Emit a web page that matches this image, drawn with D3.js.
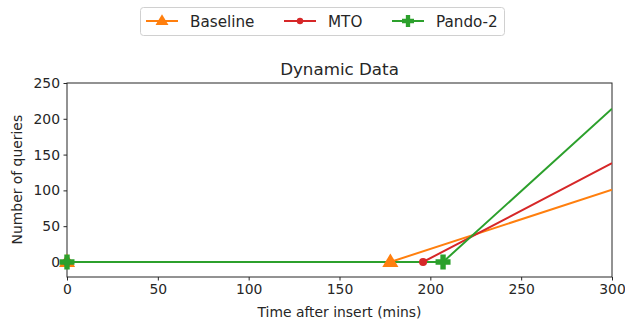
<!DOCTYPE html>
<html>
<head>
<meta charset="utf-8">
<script src="https://cdn.jsdelivr.net/npm/d3@7"></script>
<style>
  body { margin: 0; background: #fff; }
  text { font-family: "DejaVu Sans", sans-serif; }
</style>
</head>
<body>
<div id="chart"></div>
<script>
// Data
const seriesNames = ['Baseline', 'MTO', 'Pando-2']
const seriesColors = ['#ff7f0e', '#d62728', '#2ca02c']
const baselineX = [0, 178, 300]
const baselineY = [0, 0, 101]
const mtoX = [0, 196, 300]
const mtoY = [0, 0, 138]
const pandoX = [0, 207, 300]
const pandoY = [0, 0, 214]
const markedPoints = 2 // markers only on the first two points of each series
const xTicks = [0, 50, 100, 150, 200, 250, 300]
const yTicks = [0, 50, 100, 150, 200, 250]

const series = [
  { name: seriesNames[0], color: seriesColors[0], marker: 'triangle', xs: baselineX, ys: baselineY },
  { name: seriesNames[1], color: seriesColors[1], marker: 'dot', xs: mtoX, ys: mtoY },
  { name: seriesNames[2], color: seriesColors[2], marker: 'plus', xs: pandoX, ys: pandoY }
]

const W = 625, H = 322
const margin = { top: 83, right: 13, bottom: 45, left: 67 }
const width = W - margin.left - margin.right
const height = H - margin.top - margin.bottom

const x = d3.scaleLinear().domain([0, 300]).range([0, width])
const y = d3.scaleLinear().domain([-21, 250]).range([height, 0])

const svg = d3.select('#chart').append('svg')
  .attr('width', W).attr('height', H)

const g = svg.append('g').attr('transform', `translate(${margin.left},${margin.top})`)

g.append('clipPath').attr('id', 'clip')
  .append('rect').attr('width', width).attr('height', height)

// Axes
const xAxis = g.append('g')
  .attr('transform', `translate(0,${height})`)
  .call(d3.axisBottom(x).tickValues(xTicks).tickSize(3.5).tickPadding(3.5))
const yAxis = g.append('g')
  .call(d3.axisLeft(y).tickValues(yTicks).tickSize(3.5).tickPadding(3.5))
;[xAxis, yAxis].forEach(a => {
  a.select('.domain').remove()
  a.selectAll('.tick text').attr('font-size', 13.9).attr('fill', '#262626')
    .attr('font-family', '"DejaVu Sans", sans-serif')
  a.selectAll('.tick line').attr('stroke', '#262626')
})

// Frame
g.append('rect').attr('width', width).attr('height', height)
  .attr('fill', 'none').attr('stroke', '#262626').attr('stroke-width', 1)

// Lines
const line = d3.line().x(d => x(d[0])).y(d => y(d[1]))
const plot = g.append('g')

series.forEach(s => {
  const pts = s.xs.map((v, i) => [v, s.ys[i]])
  plot.append('path')
    .datum(pts)
    .attr('clip-path', 'url(#clip)')
    .attr('fill', 'none')
    .attr('stroke', s.color)
    .attr('stroke-width', 2)
    .attr('d', line)
})

function drawMarker(sel, type, color, cx, cy, big) {
  const k = big ? 1 : 0.8
  if (type === 'triangle') {
    const r = 8.5 * k
    sel.append('path')
      .attr('d', `M${cx},${cy - r}L${cx + r * 0.95},${cy + r * 0.6}L${cx - r * 0.95},${cy + r * 0.6}Z`)
      .attr('fill', color)
  } else if (type === 'dot') {
    sel.append('circle').attr('cx', cx).attr('cy', cy).attr('r', big ? 4 : 3.2).attr('fill', color)
  } else {
    const a = 7.5 * k, b = 2.7 * k
    sel.append('path')
      .attr('d', `M${cx - b},${cy - a}H${cx + b}V${cy - b}H${cx + a}V${cy + b}H${cx + b}V${cy + a}H${cx - b}V${cy + b}H${cx - a}V${cy - b}H${cx - b}Z`)
      .attr('fill', color)
  }
}

series.forEach(s => {
  for (let i = 0; i < markedPoints; i++) {
    drawMarker(plot, s.marker, s.color, x(s.xs[i]), y(s.ys[i]), true)
  }
})

// Title and axis labels
svg.append('text')
  .attr('x', margin.left + width / 2).attr('y', 75)
  .attr('text-anchor', 'middle').attr('font-size', 16.7).attr('fill', '#262626')
  .text('Dynamic Data')

svg.append('text')
  .attr('x', margin.left + width / 2).attr('y', 317)
  .attr('text-anchor', 'middle').attr('font-size', 13.9).attr('fill', '#262626')
  .text('Time after insert (mins)')

svg.append('text')
  .attr('transform', `translate(22,${margin.top + y(115)}) rotate(-90)`)
  .attr('text-anchor', 'middle').attr('font-size', 13.9).attr('fill', '#262626')
  .text('Number of queries')

// Legend
const legend = svg.append('g')
legend.append('rect')
  .attr('x', 140.5).attr('y', 7.5).attr('width', 364).attr('height', 28).attr('rx', 3)
  .attr('fill', '#fff').attr('stroke', '#d0d0d0')

const legendX = [146, 284, 392]
series.forEach((s, i) => {
  const lx = legendX[i], ly = 21
  legend.append('line')
    .attr('x1', lx).attr('x2', lx + 32).attr('y1', ly).attr('y2', ly)
    .attr('stroke', s.color).attr('stroke-width', 2)
  drawMarker(legend, s.marker, s.color, lx + 16, ly, false)
  legend.append('text')
    .attr('x', lx + 44).attr('y', ly + 5.5)
    .attr('font-size', 15.2).attr('fill', '#262626')
    .text(s.name)
})
</script>
</body>
</html>
